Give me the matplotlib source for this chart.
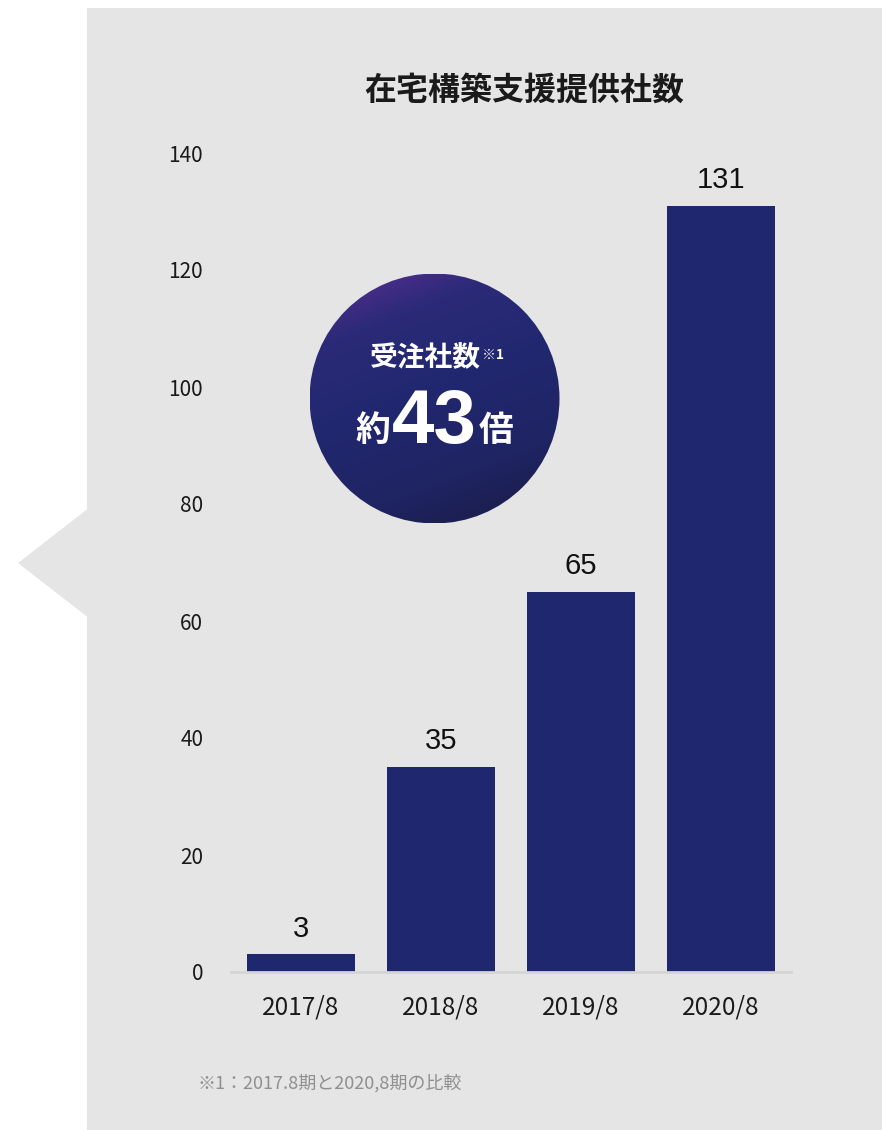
import numpy as np
import matplotlib
matplotlib.use("Agg")
import matplotlib.pyplot as plt
from matplotlib.patches import Rectangle, Polygon, Circle
from matplotlib.colors import LinearSegmentedColormap

# ---- data ----
periods = ["2017/8", "2018/8", "2019/8", "2020/8"]
companies = [3, 35, 65, 131]
y_ticks = [0, 20, 40, 60, 80, 100, 120, 140]
title = "在宅構築支援提供社数"
badge_label = "受注社数"
badge_note = "※1"
badge_prefix = "約"
badge_ratio = "43"
badge_suffix = "倍"
footnote = "※1：2017.8期と2020,8期の比較"

JP = ["Noto Sans CJK JP", "DejaVu Sans"]
LAT = ["Liberation Sans", "DejaVu Sans"]

W, H = 882, 1130
fig = plt.figure(figsize=(W / 100, H / 100), dpi=100)
fig.patch.set_facecolor("white")

def fx(px):
    return px / W

def fy(py):
    return 1 - py / H

panel_color = "#e5e5e5"
bar_color = "#1f276f"

# grey panel with the pointer on its left side (drawn beneath the axes)
fig.patches.append(Rectangle((fx(87), 0), 1 - fx(87), fy(8), transform=fig.transFigure,
                             facecolor=panel_color, edgecolor="none", zorder=-5))
fig.patches.append(Polygon([(fx(18), fy(563)), (fx(87.5), fy(509)), (fx(87.5), fy(617))],
                           closed=True, transform=fig.transFigure,
                           facecolor=panel_color, edgecolor="none", zorder=-5))

# ---- bar chart ----
ax = fig.add_axes([fx(231), fy(972), fx(791) - fx(231), fy(153) - fy(972)])
ax.set_facecolor("none")
x = np.arange(len(periods))
bars = ax.bar(x, companies, width=0.765, color=bar_color, zorder=2)
ax.set_xlim(-0.5, len(periods) - 0.5)
ax.set_ylim(0, 140)

for sp in ["top", "right", "left"]:
    ax.spines[sp].set_visible(False)
ax.spines["bottom"].set_color("#d5d5d5")
ax.spines["bottom"].set_linewidth(2)

ax.set_yticks(y_ticks)
ax.set_yticklabels([str(v) for v in y_ticks], family=JP, fontsize=15, color="#1a1a1a")
ax.set_xticks(x)
ax.set_xticklabels(periods, family=JP, fontsize=17.5, color="#1a1a1a")
ax.tick_params(axis="y", length=0, pad=20)
ax.tick_params(axis="x", length=0, pad=16.5)

for xi, v in zip(x, companies):
    ax.annotate(str(v), (xi, v), xytext=(0, 8.5), textcoords="offset points",
                ha="center", va="bottom", family=LAT, fontsize=21, color="#111111")

# ---- title ----
fig.text(fx(524.5), fy(91), title, family=JP, fontsize=23, fontweight="bold",
         ha="center", va="center", color="#1a1a1a")

# ---- gradient badge ----
cx, cy, r = 434.5, 398.5, 125
bax = fig.add_axes([fx(cx - r), fy(cy + r), fx(2 * r), fy(cy - r) - fy(cy + r)])
bax.set_axis_off()
n = 400
gx, gy = np.meshgrid(np.linspace(0, 1, n), np.linspace(1, 0, n))
d = np.array([0.38, -1.0])
d = d / np.linalg.norm(d)
t = (gx - 0.2) * d[0] + (gy - 1.0) * d[1]
t = (t - t.min()) / (t.max() - t.min())
cmap = LinearSegmentedColormap.from_list(
    "badge", [(0.0, "#5e2f94"), (0.22, "#2b2a78"), (0.45, "#222870"),
              (0.75, "#1f2463"), (1.0, "#1a1b42")])
im = bax.imshow(t, cmap=cmap, extent=(0, 1, 0, 1), origin="upper", aspect="auto")
clip = Circle((0.5, 0.5), 0.5, transform=bax.transAxes, facecolor="none", edgecolor="none")
bax.add_patch(clip)
im.set_clip_path(clip)
bax.set_xlim(0, 1)
bax.set_ylim(0, 1)

fig.text(fx(425), fy(358), badge_label, family=JP, fontsize=20, fontweight="bold",
         color="white", ha="center", va="center")
fig.text(fx(482), fy(355), badge_note, family=JP, fontsize=10, fontweight="bold",
         color="white", ha="left", va="center")
fig.text(fx(373), fy(431), badge_prefix, family=JP, fontsize=25, fontweight="bold",
         color="white", ha="center", va="center")
fig.text(fx(434), fy(423), badge_ratio, family=LAT, fontsize=55, fontweight="bold",
         color="white", ha="center", va="center")
fig.text(fx(496), fy(431), badge_suffix, family=JP, fontsize=25, fontweight="bold",
         color="white", ha="center", va="center")

# ---- footnote ----
fig.text(fx(197), fy(1083), footnote, family=JP, fontsize=13, color="#8f8f8f",
         ha="left", va="center")

fig.savefig("out.png", dpi=100, facecolor="white")
